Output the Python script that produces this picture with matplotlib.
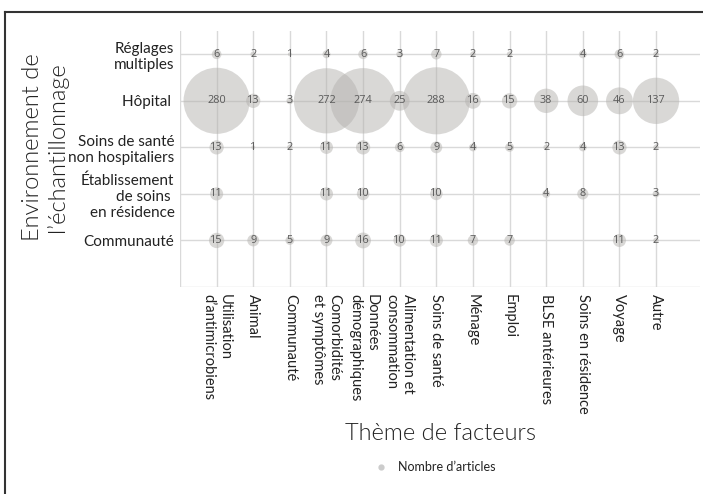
import matplotlib
matplotlib.use("Agg")
import matplotlib.pyplot as plt
from matplotlib.lines import Line2D
import numpy as np

plt.rcParams['font.family'] = ['Lato', 'DejaVu Sans']

# factor themes (x) and sampling settings (y, bottom to top)
themes = ["Utilisation\nd\u2019antimicrobiens", "Animal", "Communauté",
          "Comorbidités\net symptômes", "Données\ndémographiques",
          "Alimentation et\nconsommation", "Soins de santé", "Ménage",
          "Emploi", "BLSE antérieures", "Soins en résidence", "Voyage", "Autre"]
settings = ["Communauté", "Établissement\nde soins \nen résidence",
            "Soins de santé\nnon hospitaliers", "Hôpital ", "Réglages\nmultiples"]

# number of articles, one list per setting (None = no articles)
communaute = [15, 9, 5, 9, 16, 10, 11, 7, 7, None, None, 11, 2]
etablissement = [11, None, None, 11, 10, None, 10, None, None, 4, 8, None, 3]
non_hosp = [13, 1, 2, 11, 13, 6, 9, 4, 5, 2, 4, 13, 2]
hopital = [280, 13, 3, 272, 274, 25, 288, 16, 15, 38, 60, 46, 137]
multiples = [6, 2, 1, 4, 6, 3, 7, 2, 2, None, 4, 6, 2]
counts = [communaute, etablissement, non_hosp, hopital, multiples]

fig = plt.figure(figsize=(7.03, 4.94), dpi=100)
ax = fig.add_axes([180 / 703, 1 - 287 / 494, 520 / 703, 256 / 494])

xs, ys, vs = [], [], []
for j, row in enumerate(counts):
    for i, v in enumerate(row):
        if v is None:
            continue
        xs.append(i + 1)
        ys.append(j + 1)
        vs.append(v)
vs = np.array(vs)

ax.scatter(xs, ys, s=vs * 8.1, color="#b4b2af", alpha=0.5, linewidths=0, zorder=3)
for x, y, v in zip(xs, ys, vs):
    ax.text(x, y, str(v), ha="center", va="center", fontsize=7.8,
            color="#595959", family=["Open Sans", "DejaVu Sans"], zorder=4)

ax.set_xlim(0, 14.2)
ax.set_ylim(0, 5.5)
ax.set_xticks(range(0, 14))
ax.set_xticklabels([""] + themes, rotation=270, fontsize=10.5,
                   va="top", ha="center", color="#222222")
for lab in ax.get_xticklabels():
    lab.set_multialignment("left")
ax.set_yticks(range(0, 6))
ax.set_yticklabels([""] + settings, fontsize=11, color="#222222")
for lab in ax.get_yticklabels():
    lab.set_multialignment("right")
ax.tick_params(length=0)
ax.tick_params(axis="x", pad=5)
ax.tick_params(axis="y", pad=4)
ax.grid(True, color="#d9d9d9", linewidth=1)
ax.set_axisbelow(True)
for sp in ax.spines.values():
    sp.set_visible(False)

fig.text(45 / 703, 1 - 147 / 494, "Environnement de\nl\u2019échantillonnage",
         rotation=90, ha="center", va="center", fontsize=17, color="#222222",
         fontweight=300)
fig.text(440 / 703, 1 - 433 / 494, "Thème de facteurs", ha="center",
         va="center", fontsize=17, color="#222222", fontweight=300)

# legend
fig.add_artist(Line2D([381 / 703], [1 - 467 / 494], marker="o", markersize=3.5,
                      color="#cccccc", linestyle="none"))
fig.text(398 / 703, 1 - 467 / 494, "Nombre d\u2019articles", ha="left",
         va="center", fontsize=9, color="#222222")

# frame
fig.add_artist(Line2D([5 / 703, 1], [1 - 12 / 494, 1 - 12 / 494],
                      color="#333333", linewidth=1.5))
fig.add_artist(Line2D([5 / 703, 5 / 703], [0, 1 - 12 / 494],
                      color="#333333", linewidth=1.5))

fig.savefig("out.png", dpi=100)
